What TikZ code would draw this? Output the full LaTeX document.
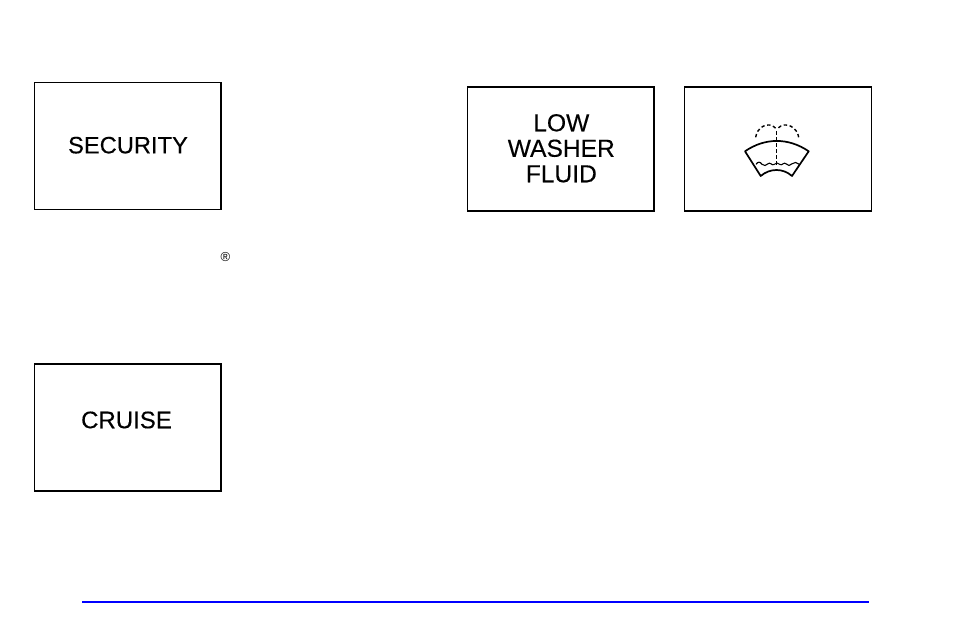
\documentclass[tikz,border=0pt]{standalone}
\usepackage{fontspec}
\setmainfont{Liberation Sans}
\newfontfamily\lampfont[FakeBold=0.25]{Liberation Sans}
\usetikzlibrary{positioning}

\begin{document}
\begin{tikzpicture}[
    x=1pt, y=-1pt,
    lamp/.style={
        draw, line width=1.2pt,
        inner sep=0pt,
        minimum width=186.5pt,
        minimum height=127pt
    },
    lamptext/.style={
        inner sep=0pt,
        align=center,
        font=\lampfont\fontsize{24}{25.5}\selectfont
    },
    iconline/.style={line width=1.7pt},
    icondash/.style={line width=1.4pt, dash pattern=on 3.4pt off 2.6pt}
]
\useasboundingbox (0,0) rectangle (954,636);
\node[lamp] (security) at (127.7,146.2) {};
\node[lamp] (cruise) at (127.7,427.5) {};
\node[lamp, minimum height=124pt] (washer) at (560.7,149) {};
\node[lamp, minimum height=124pt, minimum width=187pt, right=29pt of washer] (icon) {};
\node[lamptext, font=\lampfont\fontsize{23.7}{25.5}\selectfont] (securitytext) at (128,145.2) {SECURITY};
\node[lamptext] (cruisetext) at (126.5,420) {CRUISE};
\node[lamptext, font=\lampfont\fontsize{24.6}{25.5}\selectfont] (washertext) at (561.3,148.3) {LOW\\WASHER\\FLUID};
\node[font=\fontsize{13}{13}\selectfont, inner sep=0pt] (reg) at (225.5,257) {®};
% washer symbol
\draw[iconline, line join=round] (745,151.3) .. controls (765,137.5) and (788.5,137.5) .. (808.7,151.3)
    -- (792,176) .. controls (783,168) and (770,168) .. (760.7,176) -- cycle;
\draw[line width=1.1pt] (756,164.3) .. controls (758,161.5) and (760,161.5) .. (762,164.3)
    .. controls (764,166) and (766,166) .. (768,163.8)
    .. controls (770,161.5) and (772,166) .. (774,164.5)
    .. controls (776,162.5) and (778,162.5) .. (780,164.5)
    .. controls (782,166) and (784,161.5) .. (786,163.8)
    .. controls (788,166) and (790,166) .. (792,163.8)
    .. controls (794,161.5) and (797,162.5) .. (799.3,164.3);
\draw[icondash] (776.7,131.5) -- (776.7,165);
\draw[icondash] (755.7,137.3) .. controls (756.5,128) and (768,120) .. (776,128.5);
\draw[icondash] (798.7,137.3) .. controls (797.5,128) and (786,120) .. (777.5,128.5);
% rule at the foot of the page
\coordinate (ruleleft) at (82,602);
\coordinate (ruleright) at (869,602);
\draw[blue, line width=2pt] (ruleleft) -- (ruleright);
\end{tikzpicture}
\end{document}
